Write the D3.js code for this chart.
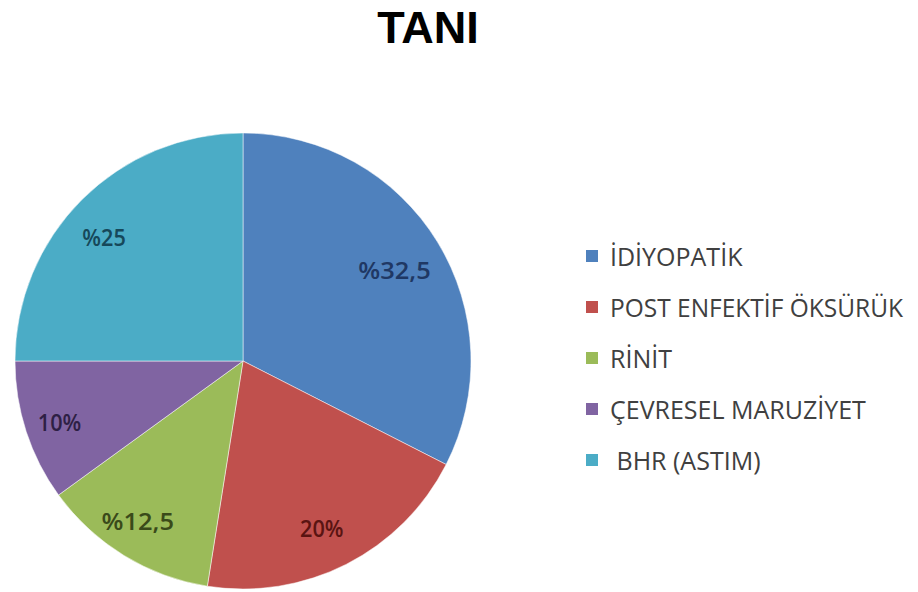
<!DOCTYPE html>
<html lang="tr">
<head>
    <meta charset="UTF-8">
    <title>TANI</title>
    <script src="https://d3js.org/d3.v7.min.js"></script>
    <style>
        body { margin: 0; padding: 0; background: #ffffff; overflow: hidden; }
        svg { display: block; }
        .title { font-family: 'Liberation Sans', Arial, sans-serif; font-weight: bold; font-size: 45px; fill: #000; text-anchor: middle; }
        .slice-label { font-family: 'Open Sans', sans-serif; font-size: 24px; font-weight: 600; text-anchor: middle; dominant-baseline: central; }
        .legend-text { font-family: 'Open Sans', sans-serif; font-size: 25px; fill: #404040; dominant-baseline: central; }
    </style>
</head>
<body>
    <svg id="chart" width="918" height="592"></svg>
    <script>
        // --- Data ---
        const categories = ["İDİYOPATİK", "POST ENFEKTİF ÖKSÜRÜK", "RİNİT", "ÇEVRESEL MARUZİYET", " BHR (ASTIM)"];
        const values = [32.5, 20, 12.5, 10, 25];
        const labels = ["%32,5", "20%", "%12,5", "10%", "%25"];
        const colors = ["#4f81bd", "#c0504d", "#9bbb59", "#8064a2", "#4bacc6"];
        const labelColors = ["#1f3864", "#5a1412", "#3a4a1a", "#2e1f45", "#16485a"];

        const svg = d3.select("#chart");
        const cx = 243, cy = 361, radius = 228;

        svg.append("text")
            .attr("class", "title")
            .attr("x", 428)
            .attr("y", 43)
            .text("TANI");

        const pie = d3.pie().sort(null).value(d => d)(values);
        const arc = d3.arc().innerRadius(0).outerRadius(radius);
        const labelArc = d3.arc().innerRadius(radius * 0.8).outerRadius(radius * 0.8);

        const g = svg.append("g").attr("transform", `translate(${cx},${cy})`);

        g.selectAll("path")
            .data(pie)
            .enter().append("path")
            .attr("d", arc)
            .attr("fill", (d, i) => colors[i])
            .attr("stroke", "#ffffff")
            .attr("stroke-width", 0.5);

        g.selectAll("text")
            .data(pie)
            .enter().append("text")
            .attr("class", "slice-label")
            .attr("transform", d => {
                const [x, y] = labelArc.centroid(d);
                // nudge left-side labels a touch further out, like the original
                return `translate(${x < -50 ? x - 10 : x - 4},${y + 4})`;
            })
            .attr("fill", (d, i) => labelColors[i])
            .attr("textLength", (d, i) => labels[i].length * 14.5)
            .attr("lengthAdjust", "spacingAndGlyphs")
            .text((d, i) => labels[i]);

        // --- Legend ---
        const legendY = d3.scalePoint().domain(d3.range(categories.length)).range([256, 460]);
        const legend = svg.append("g")
            .selectAll("g")
            .data(categories)
            .enter().append("g")
            .attr("transform", (d, i) => `translate(586,${legendY(i)})`);

        legend.append("rect")
            .attr("x", 0).attr("y", -6)
            .attr("width", 12).attr("height", 12)
            .attr("fill", (d, i) => colors[i]);

        legend.append("text")
            .attr("class", "legend-text")
            .attr("x", 24)
            .attr("y", 0)
            .attr("xml:space", "preserve")
            .attr("textLength", d => d === "POST ENFEKTİF ÖKSÜRÜK" ? 293 : null)
            .attr("lengthAdjust", "spacingAndGlyphs")
            .text(d => d);
    </script>
</body>
</html>
